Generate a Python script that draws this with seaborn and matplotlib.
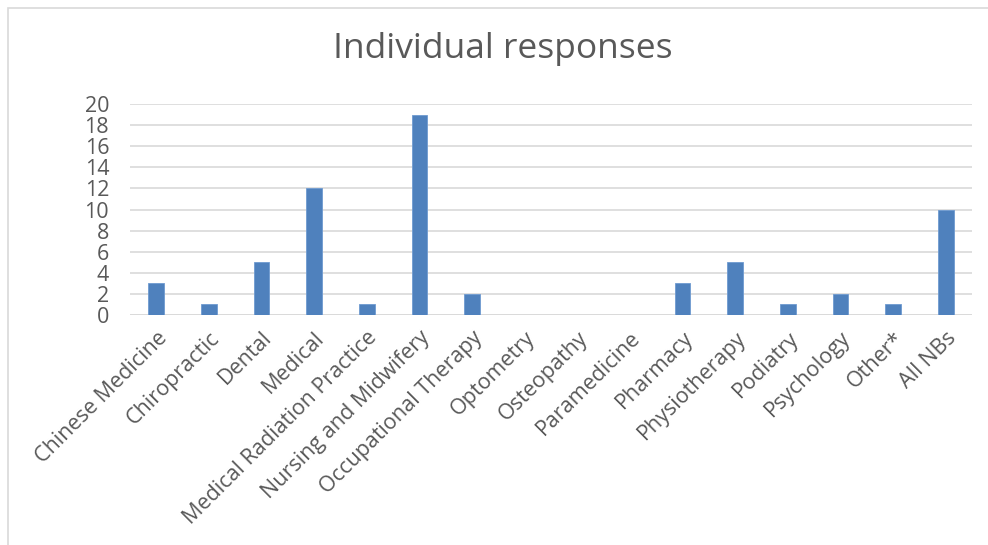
import matplotlib
matplotlib.use("Agg")
import matplotlib.pyplot as plt
import seaborn as sns
import pandas as pd
from matplotlib.patches import Rectangle

categories = ["Chinese Medicine", "Chiropractic", "Dental", "Medical",
              "Medical Radiation Practice", "Nursing and Midwifery",
              "Occupational Therapy", "Optometry", "Osteopathy", "Paramedicine",
              "Pharmacy", "Physiotherapy", "Podiatry", "Psychology", "Other*",
              "All NBs"]
responses = [3, 1, 5, 12, 1, 19, 2, 0, 0, 0, 3, 5, 1, 2, 1, 10]
y_ticks = [0, 2, 4, 6, 8, 10, 12, 14, 16, 18, 20]

df = pd.DataFrame({"category": categories, "responses": responses})

sns.set_theme(style="white")
plt.rcParams["font.family"] = ["Open Sans", "DejaVu Sans"]

text_color = "#595959"
grid_color = "#d9d9d9"
bar_color = "#4f81bd"

fig = plt.figure(figsize=(9.88, 5.45), dpi=100)
ax = fig.add_axes([130 / 988, 1 - 315 / 545, (972 - 130) / 988, (315 - 104) / 545])

sns.barplot(data=df, x="category", y="responses", color=bar_color,
            width=0.3, saturation=1, ax=ax, zorder=3,
            edgecolor="#6f9bd1", linewidth=0.6)

ax.set_ylim(0, 20)
ax.set_xlim(-0.5, len(categories) - 0.5)
ax.set_yticks(y_ticks)
ax.yaxis.grid(True, color=grid_color, linewidth=1.2, zorder=0)
ax.set_axisbelow(True)
for side in ["top", "right", "left", "bottom"]:
    ax.spines[side].set_visible(False)
ax.axhline(0, color=grid_color, linewidth=1.2, zorder=1)

ax.set_xlabel("")
ax.set_ylabel("")
ax.tick_params(axis="both", length=0, colors=text_color, labelsize=15.5)
ax.tick_params(axis="y", pad=15)
ax.set_xticks(range(len(categories)))
ax.set_xticklabels(categories, rotation=45, ha="right", rotation_mode="anchor",
                   color=text_color, fontsize=15.5)
ax.tick_params(axis="x", pad=9)

fig.text(503 / 988, 1 - 49 / 545, "Individual responses", ha="center", va="center",
         fontsize=25.5, color=text_color)

# chart area border
fig.patches.append(Rectangle((8 / 988, -0.1), 1.1, 1 - 8 / 545 + 0.1,
                             transform=fig.transFigure, fill=False,
                             edgecolor="#d9d9d9", linewidth=1.2))

fig.savefig("out.png", dpi=100)
